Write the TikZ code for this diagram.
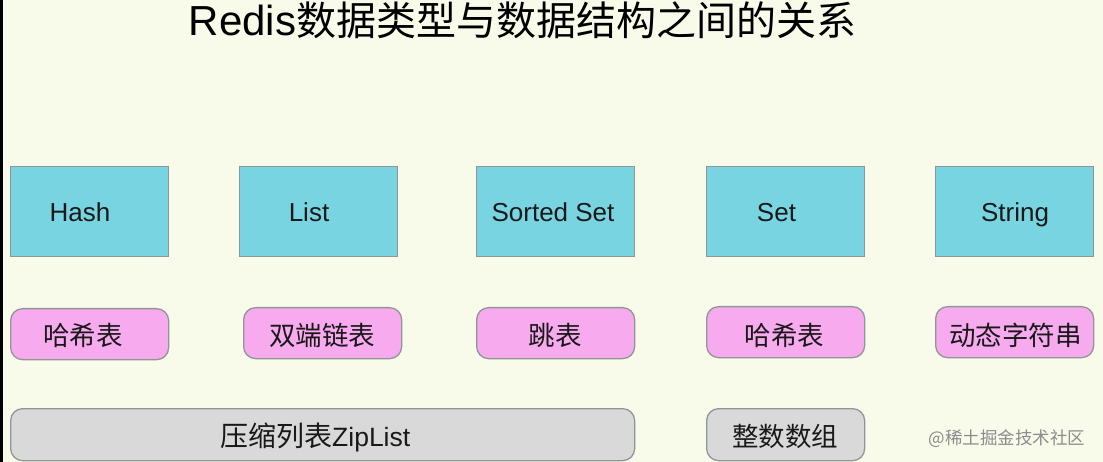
\documentclass[tikz,border=0pt]{standalone}
\usepackage{fontspec}
\setmainfont{Liberation Sans}
\newfontfamily\cjk{Noto Sans CJK SC}
\definecolor{bgc}{HTML}{F8FBEA}
\definecolor{bluec}{HTML}{79D4E2}
\definecolor{pinkc}{HTML}{F7AAEE}
\definecolor{grayc}{HTML}{D9D9D9}
\definecolor{edgec}{HTML}{8E9696}
\begin{document}
\begin{tikzpicture}[x=1pt,y=-1pt,
  typebox/.style={draw=edgec,line width=1.3pt,fill=bluec,minimum width=158pt,minimum height=90pt,inner sep=0pt,anchor=north west},
  structbox/.style={draw=edgec,line width=1.3pt,fill=pinkc,rounded corners=12pt,minimum width=158pt,minimum height=51pt,inner sep=0pt,anchor=north west},
  graybox/.style={draw=edgec,line width=1.3pt,fill=grayc,rounded corners=12pt,minimum height=52pt,inner sep=0pt,anchor=north west},
  lbl/.style={font=\fontsize{26}{30}\selectfont,text=black!90,inner sep=0pt,anchor=base},
  clbl/.style={font=\cjk\fontsize{26.5}{30}\selectfont,text=black!90,inner sep=0pt,anchor=base}
]
\useasboundingbox (0,0) rectangle (1103,462);
\fill[bgc] (0,0) rectangle (1103,462);
\draw[line width=2.5pt,black] (1.25,0) -- (1.25,462);
% title
\node[inner sep=0pt,anchor=base,text=black] (title) at (522.5,36)
  {{\fontsize{42}{46}\selectfont Redis}{\cjk\fontsize{40}{46}\selectfont 数据类型与数据结构之间的关系}};
% data types
\node[typebox] (hash) at (10,166) {};
\node[typebox] (list) at (239,166) {};
\node[typebox] (zset) at (476,166) {};
\node[typebox] (set) at (706,166) {};
\node[typebox] (string) at (935,166) {};
\node[lbl] (hashT) at (80,222) {Hash};
\node[lbl] (listT) at (309,222) {List};
\node[lbl] (zsetT) at (553,222) {Sorted Set};
\node[lbl] (setT) at (776.5,222) {Set};
\node[lbl] (stringT) at (1015,222) {String};
% structures
\node[structbox] (ht1) at (10,308) {};
\node[structbox] (dll) at (243,307) {};
\node[structbox] (skip) at (476,307) {};
\node[structbox] (ht2) at (706,306) {};
\node[structbox] (sds) at (935,306) {};
\node[clbl] (ht1T) at (83,345) {哈希表};
\node[clbl] (dllT) at (322,345) {双端链表};
\node[clbl] (skipT) at (555,345) {跳表};
\node[clbl] (ht2T) at (784.5,345) {哈希表};
\node[clbl] (sdsT) at (1015.5,345) {动态字符串};
% encodings
\node[graybox,minimum width=624pt] (zip) at (10,408) {};
\node[graybox,minimum width=158pt] (intset) at (706,408) {};
\node[inner sep=0pt,anchor=base west,text=black!90] (zipT) at (220,446.5) {{\cjk\fontsize{28}{30}\selectfont 压缩列表}{\fontsize{26.5}{30}\selectfont ZipList}};
\node[clbl] (intsetT) at (785,446) {整数数组};
% watermark
\node[font=\cjk\fontsize{17.5}{20}\selectfont,text=black!45,inner sep=0pt,anchor=base] (wm) at (1007,444) {@稀土掘金技术社区};
\end{tikzpicture}
\end{document}
